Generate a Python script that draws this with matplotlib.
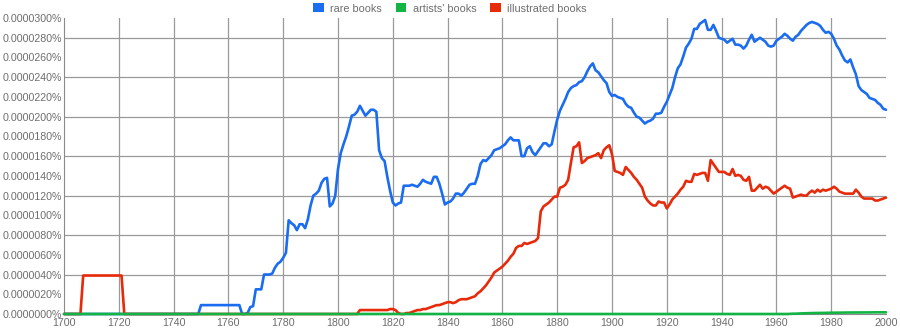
import matplotlib
matplotlib.use("Agg")
import matplotlib.pyplot as plt
from matplotlib.patches import Patch
from matplotlib.ticker import FuncFormatter, MultipleLocator

# values in units of 0.0000001 %
years = list(range(1700, 2001))

rare_books = (
    [0] * 50                                                        # 1700-1749
    + [9] * 15                                                      # 1750-1764
    + [0, 0, 1, 7, 8, 25, 25, 25, 40, 40, 40, 41, 47, 51, 53,       # 1765-1779
       57, 62, 95, 92, 90, 85, 91, 91, 87, 96,                      # 1780-1789
       110, 120, 122, 125, 133, 137, 138, 109, 112, 120,            # 1790-1799
       147, 163, 172, 180, 190, 201, 202, 205, 211, 206,            # 1800-1809
       201, 204, 207, 207, 205, 166, 158, 155, 139, 125,            # 1810-1819
       113, 110, 112, 113, 130, 130, 130, 131, 130, 129,            # 1820-1829
       132, 136, 134, 133, 132, 139, 139, 132, 122, 111,            # 1830-1839
       113, 114, 117, 122, 122, 120, 123, 127, 131, 132,            # 1840-1849
       132, 140, 152, 156, 155, 158, 161, 166, 167, 168,            # 1850-1859
       170, 172, 176, 179, 176, 176, 176, 160, 160, 168,            # 1860-1869
       170, 164, 161, 165, 169, 173, 173, 170, 172, 185,            # 1870-1879
       197, 206, 212, 218, 225, 229, 231, 232, 235, 236,            # 1880-1889
       240, 246, 251, 254, 247, 245, 241, 237, 234, 225,            # 1890-1899
       221, 222, 220, 219, 218, 213, 210, 209, 204, 200,            # 1900-1909
       199, 196, 193, 195, 196, 198, 203, 203, 204, 210,            # 1910-1919
       215, 222, 229, 240, 249, 253, 261, 270, 274, 279,            # 1920-1929
       289, 289, 294, 296, 298, 288, 288, 293, 287, 280,            # 1930-1939
       279, 278, 275, 277, 279, 273, 273, 272, 269, 272,            # 1940-1949
       278, 283, 276, 278, 280, 278, 276, 272, 271, 272,            # 1950-1959
       277, 279, 281, 284, 282, 279, 277, 281, 283, 287,            # 1960-1969
       290, 293, 295, 296, 295, 294, 292, 288, 285, 286,            # 1970-1979
       284, 279, 272, 268, 262, 257, 255, 258, 250, 243,            # 1980-1989
       231, 227, 225, 223, 219, 218, 217, 214, 212, 208,            # 1990-1999
       207]                                                         # 2000
)

artists_books = (
    [0] * 265                                                       # 1700-1964
    + [0.2, 0.3, 0.3, 0.5, 0.6, 0.7, 0.8, 0.8, 0.9, 1.0,            # 1965-1974
       1.0, 1.1, 1.1, 1.2, 1.3, 1.3, 1.3, 1.4, 1.4, 1.4,            # 1975-1984
       1.5, 1.5, 1.5, 1.5, 1.6, 1.6, 1.6, 1.6, 1.6, 1.6,            # 1985-1994
       1.7, 1.7, 1.7, 1.7, 1.7, 1.7]                                # 1995-2000
)

illustrated_books = (
    [0] * 7                                                         # 1700-1706
    + [39] * 15                                                     # 1707-1721
    + [0] * 86                                                      # 1722-1807
    + [4] * 11                                                      # 1808-1818
    + [5, 5, 4, 1, 0, 0, 1, 1, 2, 3, 4,                             # 1819-1829
       4, 5, 5, 6, 7, 8, 9, 9, 10, 11,                              # 1830-1839
       12, 12, 11, 12, 14, 15, 15, 15, 16, 17,                      # 1840-1849
       18, 21, 23, 26, 29, 33, 37, 42, 44, 46,                      # 1850-1859
       48, 51, 54, 58, 61, 67, 69, 69, 72, 71,                      # 1860-1869
       72, 73, 74, 77, 104, 109, 111, 113, 116, 119,                # 1870-1879
       119, 128, 129, 131, 136, 153, 169, 170, 174, 153,            # 1880-1889
       155, 158, 159, 160, 161, 163, 158, 166, 169, 171,            # 1890-1899
       162, 145, 144, 143, 141, 149, 146, 143, 139, 136,            # 1900-1909
       132, 128, 119, 115, 112, 110, 110, 114, 113, 113,            # 1910-1919
       107, 111, 116, 119, 122, 126, 129, 135, 134, 134,            # 1920-1929
       142, 141, 142, 143, 143, 135, 156, 152, 148, 144,            # 1930-1939
       144, 144, 142, 141, 147, 140, 141, 140, 136, 135,            # 1940-1949
       139, 125, 125, 128, 131, 127, 129, 128, 125, 122,            # 1950-1959
       124, 126, 128, 130, 128, 127, 118, 119, 120, 121,            # 1960-1969
       120, 120, 123, 125, 123, 126, 124, 126, 125, 126,            # 1970-1979
       127, 129, 127, 124, 123, 122, 122, 122, 122, 126,            # 1980-1989
       123, 119, 117, 117, 117, 117, 115, 115, 116, 117,            # 1990-1999
       118]                                                         # 2000
)

series = [
    ("rare books", rare_books, "#1a6cf0"),
    ("artists' books", artists_books, "#12b444"),
    ("illustrated books", illustrated_books, "#e62a0a"),
]

plt.rcParams["font.family"] = ["Liberation Sans", "DejaVu Sans"]
text_grey = "#6e6e6e"
grid_grey = "#9a9a9a"

fig = plt.figure(figsize=(9, 3.3), dpi=100)
ax = fig.add_axes([64 / 900, 16 / 330, 822 / 900, 296 / 330])

# draw red/blue first, green on top along the baseline like the original
for name, vals, col in [series[0], series[2], series[1]]:
    ax.plot(years, vals, color=col, lw=1.9, solid_joinstyle="round",
            solid_capstyle="round", zorder=3, clip_on=False)

ax.set_xlim(1700, 2000)
ax.set_ylim(0, 300)
ax.xaxis.set_major_locator(MultipleLocator(20))
ax.yaxis.set_major_locator(MultipleLocator(20))
ax.yaxis.set_major_formatter(FuncFormatter(lambda v, p: f"{v * 1e-7:.7f}%"))

# grid: vertical every 20 years, horizontal every 0.0000040%
for yr in range(1720, 2000, 20):
    ax.axvline(yr, color=grid_grey, lw=0.9, zorder=1)
for v in range(40, 300, 40):
    ax.axhline(v, color=grid_grey, lw=0.9, zorder=1)

for s in ["top", "right"]:
    ax.spines[s].set_visible(False)
ax.spines["left"].set_color("#8a8a8a")
ax.spines["bottom"].set_color("#8a8a8a")
ax.tick_params(length=0, labelsize=7.7, colors=text_grey, pad=1.5)
ax.tick_params(axis="x", pad=3)

handles = [Patch(facecolor=c, edgecolor="none", label=n) for n, _, c in series]
fig.legend(handles=handles, loc="upper center", bbox_to_anchor=(0.5, 1.02),
           ncol=3, frameon=False, fontsize=7.8, handlelength=0.95,
           handleheight=0.95, handletextpad=0.6, columnspacing=1.3,
           labelcolor=text_grey)

fig.savefig("out.png", dpi=100)
